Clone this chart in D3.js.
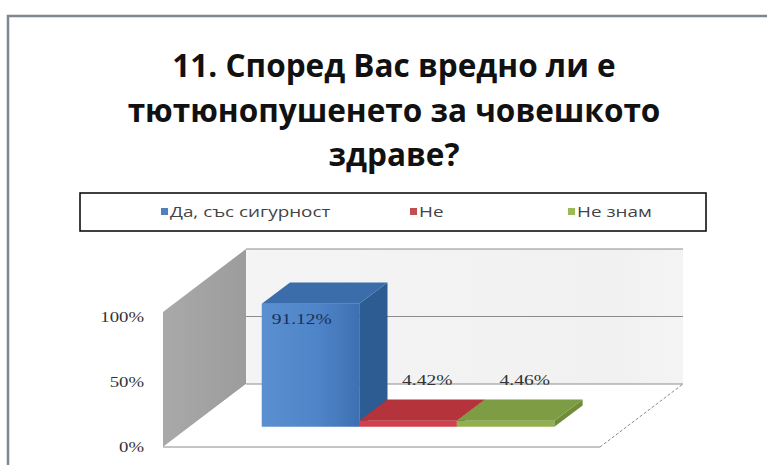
<!DOCTYPE html>
<html><head><meta charset="utf-8">
<script src="https://cdn.jsdelivr.net/npm/d3@7"></script>
<style>html,body{margin:0;padding:0;background:#fff;}svg{display:block;}</style>
</head><body>
<svg id="c" width="767" height="465"></svg>
<script>
const titleLines = ["11. Според Вас вредно ли е", "тютюнопушенето за човешкото", "здраве?"];
const categories = ["Да, със сигурност", "Не", "Не знам"];
const values = [91.12, 4.42, 4.46];
const valueLabels = ["91.12%", "4.42%", "4.46%"];
const tickValues = [0, 50, 100];
const tickLabels = ["0%", "50%", "100%"];
const frontColors = ["#4a7fc0", "#d2404f", "#90b050"];
const sideColors = ["#2c5c92", "#a02e34", "#6f8c38"];
const topColors = ["#3c6dab", "#b5343b", "#7d9c43"];
const legendColors = ["#4f81bd", "#c0504d", "#9bbb59"];

const svg = d3.select("#c");
const defs = svg.append("defs");

function stretch(sel, f) {
  sel.each(function () {
    const w = this.getComputedTextLength();
    d3.select(this).attr("textLength", w * f).attr("lengthAdjust", "spacingAndGlyphs");
  });
}

// frame
svg.append("path").attr("d", "M8,465 L8,16 L767,16").attr("fill", "none")
  .attr("stroke", "#7d8893").attr("stroke-width", 2.5);

// title
const tt = svg.append("g").selectAll("text").data(titleLines).join("text")
  .attr("x", 394).attr("y", (d, i) => 77 + i * 44.5)
  .attr("text-anchor", "middle")
  .attr("font-family", "'Open Sans', 'Noto Sans', sans-serif")
  .attr("font-weight", "bold").attr("font-size", 32).attr("fill", "#111")
  .text(d => d);
stretch(tt, 0.985);

// legend
svg.append("rect").attr("x", 80).attr("y", 193).attr("width", 626).attr("height", 38)
  .attr("fill", "#fff").attr("stroke", "#000").attr("stroke-width", 1.5);
const legX = [161, 410, 568];
const lg = svg.append("g").selectAll("g").data(categories).join("g")
  .attr("transform", (d, i) => `translate(${legX[i]},212)`);
lg.append("rect").attr("x", 0).attr("y", -4).attr("width", 7).attr("height", 7)
  .attr("fill", (d, i) => legendColors[i]);
const lt = lg.append("text").attr("x", 9).attr("y", 5)
  .attr("font-family", "'Open Sans', sans-serif").attr("font-size", 14.5).attr("fill", "#444")
  .text(d => d);
stretch(lt, 1.3);

// 3D geometry via scales
const O = {x: 163, y: 447};
const D = {x: 83, y: -63};
const floorW = 437;
const x = d3.scaleBand().domain(categories).range([0, floorW]).paddingInner(0).paddingOuter(0.74);
const h = d3.scaleLinear().domain([0, 100]).range([0, 135]);
const z0 = 0.32, z1 = 0.66;
function p(px, v, z) { return [O.x + px + z * D.x, O.y - h(v) + z * D.y]; }
const poly = pts => "M" + pts.map(q => q.join(",")).join("L") + "Z";

// back wall
const bg = defs.append("linearGradient").attr("id", "bw").attr("x1", 0).attr("x2", 1).attr("y1", 0).attr("y2", 0);
bg.append("stop").attr("offset", 0).attr("stop-color", "#f4f4f4");
bg.append("stop").attr("offset", 0.85).attr("stop-color", "#f1f1f1");
bg.append("stop").attr("offset", 1).attr("stop-color", "#f4f4f4");
svg.append("path").attr("d", poly([p(0, 0, 1), p(floorW, 0, 1), p(floorW, 100, 1), p(0, 100, 1)]))
  .attr("fill", "url(#bw)");

// side wall
const sw = defs.append("linearGradient").attr("id", "sw").attr("x1", 0).attr("x2", 1).attr("y1", 0).attr("y2", 0);
sw.append("stop").attr("offset", 0).attr("stop-color", "#a9a9a9");
sw.append("stop").attr("offset", 1).attr("stop-color", "#9c9c9c");
svg.append("path").attr("d", poly([p(0, 0, 0), p(0, 100, 0), p(0, 100, 1), p(0, 0, 1)]))
  .attr("fill", "url(#sw)");

// floor
svg.append("path").attr("d", poly([p(0, 0, 0), p(floorW, 0, 0), p(floorW, 0, 1), p(0, 0, 1)]))
  .attr("fill", "#ffffff");
svg.append("line").attr("x1", p(0, 0, 0)[0]).attr("y1", p(0, 0, 0)[1])
  .attr("x2", p(floorW, 0, 0)[0]).attr("y2", p(floorW, 0, 0)[1])
  .attr("stroke", "#8a8a8a").attr("stroke-width", 1);
svg.append("line").attr("x1", p(floorW, 0, 0)[0]).attr("y1", p(floorW, 0, 0)[1])
  .attr("x2", p(floorW, 0, 1)[0]).attr("y2", p(floorW, 0, 1)[1])
  .attr("stroke", "#8a8a8a").attr("stroke-width", 1).attr("stroke-dasharray", "3,2");

// gridlines on back wall
svg.append("g").selectAll("line").data(tickValues).join("line")
  .attr("x1", d => p(0, d, 1)[0]).attr("y1", d => p(0, d, 1)[1])
  .attr("x2", d => p(floorW, d, 1)[0]).attr("y2", d => p(floorW, d, 1)[1])
  .attr("stroke", "#8c8c8c").attr("stroke-width", 1);

// axis labels
const ya = d3.scaleLinear().domain([0, 100]).range([447, 317]);
const axis = d3.axisLeft(ya).tickValues(tickValues).tickFormat((d, i) => tickLabels[i]).tickSize(0).tickPadding(0);
const ag = svg.append("g").attr("transform", "translate(144,0)").call(axis);
ag.select(".domain").remove();
ag.selectAll("text").attr("font-family", "'Liberation Serif', serif").attr("font-size", 15).attr("fill", "#333");
stretch(ag.selectAll("text"), 1.25);

// bars
const fg = defs.append("linearGradient").attr("id", "fg0").attr("x1", 0).attr("x2", 1).attr("y1", 0).attr("y2", 0);
fg.append("stop").attr("offset", 0).attr("stop-color", "#5a8fd0");
fg.append("stop").attr("offset", 0.55).attr("stop-color", "#4f86c9");
fg.append("stop").attr("offset", 1).attr("stop-color", "#3d70b2");

const bars = svg.append("g");
categories.forEach((c, i) => {
  const xl = x(c), xr = x(c) + x.bandwidth(), v = values[i];
  const g = bars.append("g");
  g.append("path").attr("d", poly([p(xl, 0, z0), p(xr, 0, z0), p(xr, v, z0), p(xl, v, z0)]))
    .attr("fill", i === 0 ? "url(#fg0)" : frontColors[i]);
  g.append("path").attr("d", poly([p(xr, 0, z0), p(xr, 0, z1), p(xr, v, z1), p(xr, v, z0)]))
    .attr("fill", sideColors[i]);
  g.append("path").attr("d", poly([p(xl, v, z0), p(xr, v, z0), p(xr, v, z1), p(xl, v, z1)]))
    .attr("fill", topColors[i]);
});

// value labels
const vl = svg.append("g").selectAll("text").data(categories).join("text")
  .attr("x", (c, i) => values[i] > 50 ? p(x(c), values[i], z0)[0] + 10 : p(x(c) + x.bandwidth() / 2, values[i], z1)[0] - 9)
  .attr("y", (c, i) => values[i] > 50 ? p(x(c), values[i], z0)[1] + 20 : p(x(c) + x.bandwidth() / 2, values[i], z1)[1] - 14)
  .attr("text-anchor", (c, i) => values[i] > 50 ? "start" : "middle")
  .attr("font-family", "'Liberation Serif', serif").attr("font-size", 15)
  .attr("fill", (c, i) => values[i] > 50 ? "#1c2f55" : "#333")
  .text((c, i) => valueLabels[i]);
stretch(vl, 1.3);
</script>
</body></html>
